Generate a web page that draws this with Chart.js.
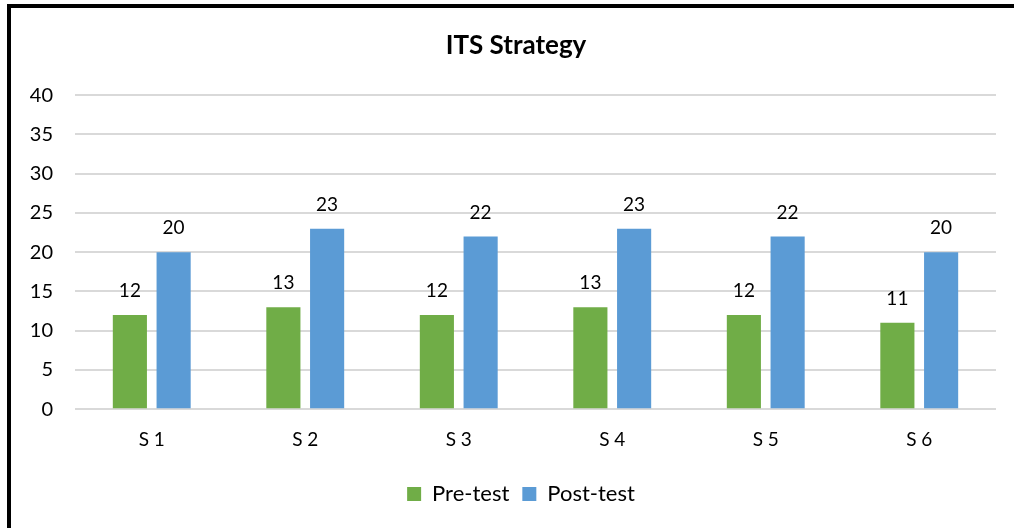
<!DOCTYPE html>
<html>
<head>
<meta charset="utf-8">
<script src="https://cdn.jsdelivr.net/npm/chart.js@4.4.1/dist/chart.umd.min.js"></script>
<style>
  html, body { margin: 0; padding: 0; background: #fff; }
  #wrap { position: relative; width: 1014px; height: 528px; overflow: hidden; }
  #frame { position: absolute; left: 7px; top: 4px; width: 1100px; height: 600px; border: 4px solid #000; box-sizing: border-box; pointer-events: none; }
  canvas { position: absolute; left: 0; top: 0; }
</style>
</head>
<body>
<div id="wrap">
  <canvas id="c" width="1014" height="528"></canvas>
  <div id="frame"></div>
</div>
<script>
const categories = ["S 1", "S 2", "S 3", "S 4", "S 5", "S 6"];
const preTest = [12, 13, 12, 13, 12, 11];
const postTest = [20, 23, 22, 23, 22, 20];
const yTicks = [0, 5, 10, 15, 20, 25, 30, 35, 40];

const FONT = "Lato, 'Open Sans', sans-serif";

const valueLabels = {
  id: 'valueLabels',
  afterDatasetsDraw(chart) {
    const ctx = chart.ctx;
    ctx.save();
    ctx.font = "19px " + FONT;
    ctx.fillStyle = "#000";
    ctx.textAlign = "center";
    ctx.textBaseline = "middle";
    chart.data.datasets.forEach((ds, i) => {
      const meta = chart.getDatasetMeta(i);
      meta.data.forEach((bar, j) => {
        ctx.fillText(String(ds.data[j]), bar.x, bar.y - 24);
      });
    });
    ctx.restore();
  }
};

// shift title and legend horizontally to match reference centring
const shiftBlocks = {
  id: 'shiftBlocks',
  afterLayout(chart) {
    if (chart.legend) { chart.legend.left += 23; chart.legend.right += 23; }
    if (chart.titleBlock) { chart.titleBlock.left += 18; chart.titleBlock.right += 18; }
  }
};

new Chart(document.getElementById('c'), {
  type: 'bar',
  data: {
    labels: categories,
    datasets: [
      { label: 'Pre-test', data: preTest, backgroundColor: '#70AD47' },
      { label: 'Post-test', data: postTest, backgroundColor: '#5B9BD5' }
    ]
  },
  options: {
    responsive: false,
    animation: false,
    devicePixelRatio: 1,
    layout: { padding: { left: 0, right: 18, top: 0, bottom: 13 } },
    datasets: { bar: { categoryPercentage: 0.57, barPercentage: 0.78 } },
    plugins: {
      title: {
        display: true,
        text: 'ITS Strategy',
        color: '#000',
        font: { family: FONT, size: 26, weight: 'bold' },
        padding: { top: 30, bottom: 34 }
      },
      legend: {
        position: 'bottom',
        labels: {
          color: '#000',
          font: { family: FONT, size: 22 },
          boxWidth: 14, boxHeight: 14,
          padding: 13
        }
      },
      tooltip: { enabled: false }
    },
    scales: {
      x: {
        grid: { display: false, drawTicks: false },
        border: { display: false },
        ticks: { color: '#000', font: { family: FONT, size: 19 }, padding: 19 }
      },
      y: {
        min: 0, max: 40,
        afterBuildTicks(scale) { scale.ticks = yTicks.map(v => ({ value: v })); },
        afterFit(scale) { scale.width = 75; },
        grid: { color: '#D9D9D9', lineWidth: 2, drawTicks: false },
        border: { display: false },
        ticks: { color: '#000', font: { family: FONT, size: 20 }, padding: 22 }
      }
    }
  },
  plugins: [valueLabels, shiftBlocks]
});
</script>
</body>
</html>
